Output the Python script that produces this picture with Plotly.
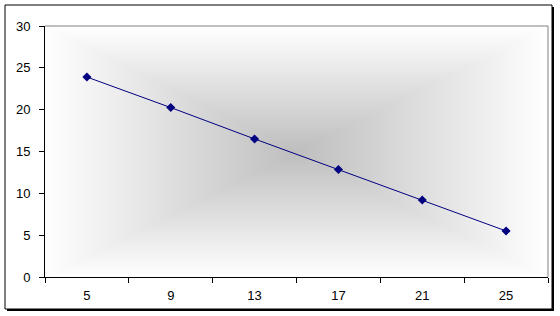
import numpy as np
import plotly.graph_objects as go

categories = ["5", "9", "13", "17", "21", "25"]
values = [23.9, 20.25, 16.5, 12.85, 9.2, 5.5]
y_ticks = [0, 5, 10, 15, 20, 25, 30]

# background "from center" gradient (rectangular contours)
nx, ny = 240, 140
u = np.linspace(-1, 1, nx)
v = np.linspace(-1, 1, ny)
U, V = np.meshgrid(u, v)
Z = np.maximum(np.abs(U), np.abs(V))

fig = go.Figure()
fig.add_trace(go.Heatmap(
    x=u, y=v, z=Z, xaxis="x", yaxis="y",
    colorscale=[[0, "rgb(190,190,190)"], [1, "rgb(255,255,255)"]],
    zmin=0, zmax=1, showscale=False, zsmooth="best", hoverinfo="skip"))

fig.add_trace(go.Scatter(
    x=categories, y=values, xaxis="x2", yaxis="y2",
    mode="lines+markers",
    line=dict(color="rgb(0,0,128)", width=1),
    marker=dict(symbol="diamond", size=7, color="rgb(0,0,128)"),
    showlegend=False))

W, H = 560, 316
L, R, T, B = 45, 12, 26, 39
pw, ph = W - L - R, H - T - B

def px(x):
    return (x - L) / pw

def py(y):
    return (H - B - y) / ph

font = dict(family="Liberation Sans, Arial, sans-serif", size=13, color="black")

fig.update_layout(
    width=W, height=H,
    margin=dict(l=L, r=R, t=T, b=B),
    paper_bgcolor="white", plot_bgcolor="white",
    font=font,
    xaxis=dict(range=[-1, 1], visible=False, fixedrange=True),
    yaxis=dict(range=[-1, 1], visible=False, fixedrange=True),
    xaxis2=dict(overlaying="x", type="category", categoryorder="array",
                categoryarray=categories, range=[-0.5, 5.5],
                tickson="boundaries", ticks="outside", ticklen=5,
                tickcolor="black", showline=True, linecolor="black",
                linewidth=1, showgrid=False, zeroline=False,
                tickfont=font, ticklabelstandoff=6),
    yaxis2=dict(overlaying="y", range=[0, 30], tickvals=y_ticks,
                ticks="outside", ticklen=5, tickcolor="black",
                showline=True, linecolor="black", linewidth=1,
                showgrid=False, zeroline=False, tickfont=font,
                ticklabelstandoff=6),
    shapes=[
        dict(type="rect", xref="paper", yref="paper", layer="below",
             x0=px(7), x1=px(554), y0=py(311), y1=py(7),
             line=dict(width=0), fillcolor="black"),
        dict(type="rect", xref="paper", yref="paper", layer="below",
             x0=px(5), x1=px(552), y0=py(309), y1=py(5),
             line=dict(width=1, color="black"), fillcolor="white"),
        dict(type="line", xref="paper", yref="paper", layer="above",
             x0=0, x1=1, y0=1, y1=1,
             line=dict(width=1, color="rgb(128,128,128)")),
        dict(type="line", xref="paper", yref="paper", layer="above",
             x0=1, x1=1, y0=0, y1=1,
             line=dict(width=1, color="rgb(128,128,128)")),
    ],
)

fig.write_html("out.html")
